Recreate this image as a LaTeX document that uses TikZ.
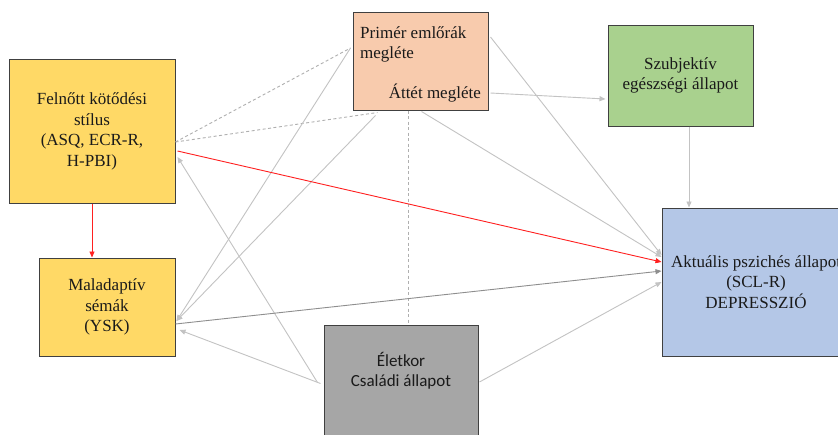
\documentclass[tikz,border=0pt]{standalone}
\usepackage{fontspec}
\setmainfont{Liberation Serif}
\newfontfamily\tnr{Liberation Serif}
\newfontfamily\calib{Carlito}
\usetikzlibrary{arrows.meta,calc}
\definecolor{yel}{HTML}{FFD966}
\definecolor{peach}{HTML}{F8CBAD}
\definecolor{grn}{HTML}{A9D18E}
\definecolor{blu}{HTML}{B4C7E7}
\definecolor{gry}{HTML}{A6A6A6}
\definecolor{txt}{HTML}{1A1A1A}
\definecolor{lline}{HTML}{C3C3C3}
\definecolor{dline}{HTML}{8E8E8E}
\definecolor{rline}{HTML}{FF2020}
\begin{document}
\begin{tikzpicture}[x=1pt,y=-1pt,
  box/.style={draw=black!75, line width=1pt, inner sep=0pt, text=txt, align=center,
    font=\tnr\fontsize{17}{20.5}\selectfont},
  lbl/.style={inner sep=0pt, text=txt, font=\tnr\fontsize{17}{20.5}\selectfont},
  tip/.style={-{Triangle[length=6pt,width=5pt]}},
  gl/.style={draw=lline, line width=0.9pt},
  dl/.style={draw=dline, line width=0.9pt},
  rl/.style={draw=rline, line width=0.9pt, -{Triangle[length=6pt,width=5pt,fill=rline]}},
  dsh/.style={draw=lline!90!black, line width=0.9pt, dash pattern=on 3pt off 2.5pt}]
\useasboundingbox (0,0) rectangle (838,434);
\fill[white] (0,0) rectangle (838,434);

% nodes
\node[box, fill=yel, minimum width=166pt, minimum height=144pt] (fel) at (92,131.5)
  {Felnőtt kötődési\\stílus\\(ASQ, ECR-R,\\H-PBI)};
\node[box, fill=yel, minimum width=136pt, minimum height=98pt] (mal) at (107,307)
  {Maladaptív\\sémák\\(YSK)};
\node[box, fill=peach, minimum width=135pt, minimum height=98pt] (pri) at (420.5,61) {};
\node[lbl, anchor=west, align=left] (pritxt) at (360,44.5) {Primér emlőrák\\megléte};
\node[lbl, anchor=east] (att) at (481,93) {Áttét megléte};
\node[box, fill=grn, minimum width=145pt, minimum height=101pt] (sub) at (680.5,75.5)
  {Szubjektív\\egészségi állapot};
\node[box, fill=blu, minimum width=188pt, minimum height=148pt] (akt) at (756,282)
  {Aktuális pszichés állapot\\(SCL-R)\\DEPRESSZIÓ};
\node[box, fill=gry, minimum width=154pt, minimum height=125pt] (ele) at (401,387.5) {};
\node[inner sep=0pt, text=txt, align=center, font=\calib\fontsize{17}{20}\selectfont] (eletxt) at (401,371)
  {Életkor\\Családi állapot};

% dashed links
\draw[dsh] ([yshift=-10.5pt]fel.east) -- ([xshift=-2pt,yshift=13pt]pri.west);
\draw[dsh] ([yshift=-10.5pt]fel.east) -- ([xshift=-43pt,yshift=-2pt]pri.south);
\draw[dsh] ([xshift=-12.5pt]pri.south) -- ([xshift=-12.5pt]pri.south |- ele.north);

% gray arrows
\draw[gl, tip] ([xshift=-2pt,yshift=13pt]pri.west) -- ([xshift=1pt,yshift=-14pt]mal.east);
\draw[gl, tip] ([xshift=-45pt,yshift=-5pt]pri.south) -- ([xshift=1pt,yshift=-14pt]mal.east);
\draw[gl, tip] ([xshift=-6pt,yshift=5pt]ele.west) -- ([xshift=2pt,yshift=-25.5pt]fel.east);
\draw[gl, tip] ([xshift=-3pt,yshift=4pt]ele.west) -- ([xshift=4pt,yshift=-23pt]mal.east);
\draw[dl, tip] ([yshift=-17pt]mal.east) -- ([yshift=11pt]akt.west);
\draw[gl, tip] ([xshift=2pt,yshift=24pt]pri.east) -- ([yshift=27pt]akt.west);
\draw[gl, tip] ([xshift=1pt,yshift=-1pt]pri.south) -- ([yshift=25pt]akt.west);
\draw[gl, tip] ([xshift=2pt,yshift=-32pt]pri.east) -- ([xshift=-2pt,yshift=-23.5pt]sub.west);
\draw[gl, tip] ([xshift=8.5pt]sub.south) -- ([xshift=8.5pt]sub.south |- akt.north);
\draw[gl, tip] ([xshift=1pt,yshift=5.5pt]ele.east) -- ([yshift=0pt]akt.west);

% red arrows
\draw[rl] (fel.south) -- (fel.south |- mal.north);
\draw[rl] ([xshift=2pt,yshift=-19.5pt]fel.east) -- ([yshift=20pt]akt.west);
\end{tikzpicture}
\end{document}
